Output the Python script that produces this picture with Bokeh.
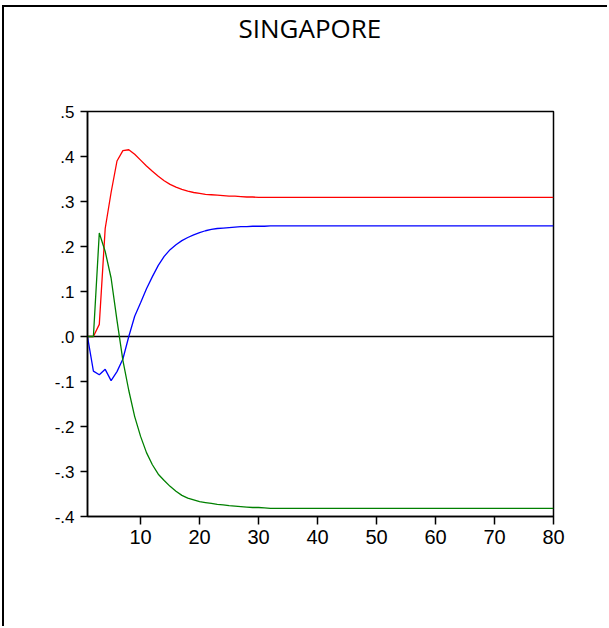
from bokeh.plotting import figure
from bokeh.models import Range1d, FixedTicker, Span, LinearAxis
from bokeh.embed import file_html
from bokeh.resources import INLINE

title_text = "SINGAPORE"

periods = list(range(1, 81))

red_series = [
    0.0, 0.0, 0.027, 0.24, 0.32, 0.39, 0.413, 0.415, 0.405, 0.392,
    0.379, 0.367, 0.356, 0.346, 0.338, 0.332, 0.327, 0.323, 0.320, 0.318,
    0.316, 0.315, 0.314, 0.313, 0.312, 0.312, 0.311, 0.310, 0.310, 0.309,
    0.309, 0.309, 0.309, 0.309, 0.309, 0.309, 0.309, 0.309, 0.309, 0.309,
    0.309, 0.309, 0.309, 0.309, 0.309, 0.309, 0.309, 0.309, 0.309, 0.309,
    0.309, 0.309, 0.309, 0.309, 0.309, 0.309, 0.309, 0.309, 0.309, 0.309,
    0.309, 0.309, 0.309, 0.309, 0.309, 0.309, 0.309, 0.309, 0.309, 0.309,
    0.309, 0.309, 0.309, 0.309, 0.309, 0.309, 0.309, 0.309, 0.309, 0.309,
]

blue_series = [
    0.0, -0.077, -0.085, -0.073, -0.098, -0.078, -0.05, 0.0, 0.045, 0.075,
    0.106, 0.133, 0.158, 0.178, 0.193, 0.204, 0.213, 0.220, 0.226, 0.231,
    0.235, 0.238, 0.240, 0.241, 0.242, 0.243, 0.244, 0.244, 0.245, 0.245,
    0.245, 0.246, 0.246, 0.246, 0.246, 0.246, 0.246, 0.246, 0.246, 0.246,
    0.246, 0.246, 0.246, 0.246, 0.246, 0.246, 0.246, 0.246, 0.246, 0.246,
    0.246, 0.246, 0.246, 0.246, 0.246, 0.246, 0.246, 0.246, 0.246, 0.246,
    0.246, 0.246, 0.246, 0.246, 0.246, 0.246, 0.246, 0.246, 0.246, 0.246,
    0.246, 0.246, 0.246, 0.246, 0.246, 0.246, 0.246, 0.246, 0.246, 0.246,
]

green_series = [
    0.0, 0.0, 0.23, 0.189, 0.13, 0.036, -0.053, -0.12, -0.178, -0.222,
    -0.258, -0.285, -0.306, -0.32, -0.333, -0.344, -0.353, -0.359, -0.363, -0.367,
    -0.369, -0.371, -0.373, -0.374, -0.376, -0.377, -0.378, -0.379, -0.380, -0.380,
    -0.381, -0.382, -0.382, -0.382, -0.382, -0.382, -0.382, -0.382, -0.382, -0.382,
    -0.382, -0.382, -0.382, -0.382, -0.382, -0.382, -0.382, -0.382, -0.382, -0.382,
    -0.382, -0.382, -0.382, -0.382, -0.382, -0.382, -0.382, -0.382, -0.382, -0.382,
    -0.382, -0.382, -0.382, -0.382, -0.382, -0.382, -0.382, -0.382, -0.382, -0.382,
    -0.382, -0.382, -0.382, -0.382, -0.382, -0.382, -0.382, -0.382, -0.382, -0.382,
]

x_ticks = [10, 20, 30, 40, 50, 60, 70, 80]
y_ticks = [-0.4, -0.3, -0.2, -0.1, 0.0, 0.1, 0.2, 0.3, 0.4, 0.5]
y_tick_labels = ["-.4", "-.3", "-.2", "-.1", ".0", ".1", ".2", ".3", ".4", ".5"]

p = figure(
    width=605, height=621,
    x_range=Range1d(1, 80), y_range=Range1d(-0.4, 0.5),
    output_backend="svg", toolbar_location=None,
    min_border_left=83, min_border_right=56,
    min_border_top=104, min_border_bottom=112,
)
p.styles = {
    "margin-left": "2px", "margin-top": "5px",
    "border-left": "2px solid black", "border-top": "2px solid black",
}

x_axis = p.below[0]
y_axis = p.left[0]

# invisible spacer axis between the frame and the title (nothing is drawn)
spacer_axis = LinearAxis(ticker=FixedTicker(ticks=[40]), axis_line_color=None,
                         major_tick_out=63, major_tick_in=0,
                         major_tick_line_color=None, minor_tick_line_color=None,
                         major_label_text_color=None)
p.add_layout(spacer_axis, "above")

p.title.text = title_text
p.title.align = "left"
p.title.offset = 151
p.title.vertical_align = "top"
p.title.standoff = 2
p.title.text_font = "Open Sans"
p.title.text_font_style = "normal"
p.title.text_font_size = "26px"
p.title.text_color = "black"

p.grid.visible = False
p.background_fill_color = "white"
p.border_fill_color = "white"
p.outline_line_color = "black"
p.outline_line_width = 1.5

x_axis.ticker = FixedTicker(ticks=x_ticks)
y_axis.ticker = FixedTicker(ticks=y_ticks)
y_axis.major_label_overrides = dict(zip(y_ticks, y_tick_labels))

for ax in (x_axis, y_axis):
    ax.axis_line_color = "black"
    ax.axis_line_width = 1.5
    ax.major_tick_line_color = "black"
    ax.major_tick_line_width = 1.5
    ax.minor_tick_line_color = None
    ax.major_tick_in = 0
    ax.major_label_text_font = "Liberation Sans"
    ax.major_label_text_color = "black"

x_axis.major_label_text_font_size = "20px"
y_axis.major_label_text_font_size = "17px"
x_axis.major_tick_out = 8
x_axis.major_label_standoff = 5
y_axis.major_tick_out = 7
y_axis.major_label_standoff = 6

zero_line = Span(location=0, dimension="width", line_color="black", line_width=1.3, level="underlay")
p.add_layout(zero_line)

p.line(periods, red_series, line_color="#ff0000", line_width=1.3)
p.line(periods, blue_series, line_color="#0000ff", line_width=1.3)
p.line(periods, green_series, line_color="#008000", line_width=1.3)

open("out.html", "w").write(file_html(p, INLINE))
